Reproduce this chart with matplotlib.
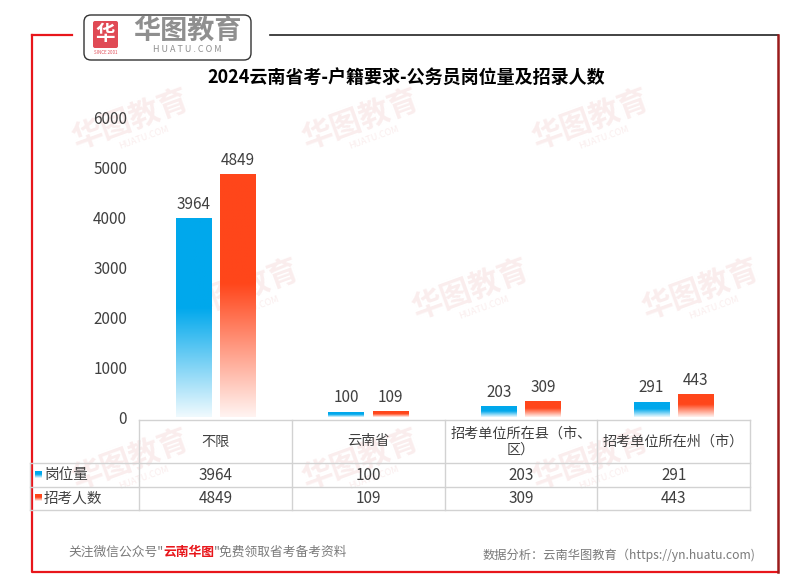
import matplotlib
matplotlib.use("Agg")
import matplotlib.pyplot as plt
import numpy as np
from matplotlib.patches import FancyBboxPatch
from matplotlib.colors import to_rgb

plt.rcParams['font.family'] = ['Noto Sans CJK SC', 'DejaVu Sans']

# data
categories = ['不限', '云南省', '招考单位所在县（市、\n区）', '招考单位所在州（市）']
series_names = ['岗位量', '招考人数']
posts = [3964, 100, 203, 291]
recruits = [4849, 109, 309, 443]
title = '2024云南省考-户籍要求-公务员岗位量及招录人数'

colors = ['#00a8ec', '#ff461b']
W, H = 798, 584
fig = plt.figure(figsize=(W / 100, H / 100), dpi=100)
fig.patch.set_facecolor('white')

# overlay in pixel coordinates
ov = fig.add_axes([0, 0, 1, 1], zorder=0)
ov.set_xlim(0, W)
ov.set_ylim(H, 0)
ov.axis('off')

# faint watermarks
wm = '#faeded'
for row, y in enumerate([120, 290, 460]):
    for x in np.arange(130 + (row % 2) * 110, 720, 230):
        ov.text(x, y, '华图教育', fontsize=22, fontweight='bold', color=wm,
                rotation=20, ha='center', va='center', zorder=0)
        ov.text(x + 14, y + 18, 'HUATU.COM', fontsize=6.5, color=wm,
                rotation=20, ha='center', va='center', zorder=0)

# frame
red = '#e8161b'
ov.plot([32, 32, 778], [35, 572, 572], color=red, lw=1.6, zorder=2)
ov.plot([32, 72], [35, 35], color=red, lw=1.6, zorder=2)
ov.plot([270, 778], [35, 35], color='#222222', lw=1.2, zorder=2)
ov.plot([778, 778], [35, 572], color='#9b1b1b', lw=1.8, zorder=2)

# logo
ov.add_patch(FancyBboxPatch((84, 15), 167, 45, boxstyle='round,pad=0,rounding_size=7',
                            fc='white', ec='#333333', lw=1.0, zorder=3))
ov.add_patch(FancyBboxPatch((93, 21), 25, 27, boxstyle='round,pad=0,rounding_size=2',
                            fc='#e04a55', ec='none', zorder=4))
ov.text(105.5, 34.5, '华', fontsize=14, fontweight='bold', color='white',
        ha='center', va='center', zorder=5)
ov.text(105.5, 53, 'SINCE 2001', fontsize=3.2, color='#e04a55', ha='center', va='center', zorder=5)
ov.text(187, 31, '华图教育', fontsize=19.5, fontweight='bold', color='#8f8f8f',
        ha='center', va='center', zorder=5)
ov.text(187, 50, 'H U A T U . C O M', fontsize=6.5, color='#8f8f8f',
        ha='center', va='center', zorder=5)

# title
ov.text(406, 78, title, fontsize=13, fontweight='bold', color='black',
        ha='center', va='center', zorder=3)

# main axes
left, right, top, bottom = 139, 750, 117, 417
ax = fig.add_axes([left / W, 1 - bottom / H, (right - left) / W, (bottom - top) / H], zorder=1)
ax.patch.set_alpha(0)
for s in ax.spines.values():
    s.set_visible(False)
ax.set_ylim(0, 6000)
ax.set_yticks(range(0, 6001, 1000))
ax.tick_params(axis='y', length=0, labelsize=11, labelcolor='#404040', pad=8.5)
ax.set_xticks([])


def grad_img(color, n=200):
    # row 0 = bottom (faded), last row = top (solid)
    c = np.array(to_rgb(color))
    f = np.linspace(0, 1, n)[:, None]
    k = np.clip(f / 0.55, 0, 1) * 0.94 + 0.06
    img = 1 - (1 - c[None, :]) * k
    return img[:, None, :]


width = 0.23
offsets = [-0.145, 0.145]
x = np.arange(len(categories))
for vals, off, col in zip([posts, recruits], offsets, colors):
    img = grad_img(col)
    for xi, v in zip(x, vals):
        ax.imshow(img, extent=(xi + off - width / 2, xi + off + width / 2, 0, v),
                  origin='lower', aspect='auto', interpolation='bilinear', zorder=2)
        ax.text(xi + off, v + 120, str(v), ha='center', va='bottom',
                fontsize=11, color='#404040')
ax.set_xlim(-0.5, len(categories) - 0.5)
ax.set_ylim(0, 6000)

# data table
lc = '#d2d2d2'
col_w = (right - left) / len(categories)
edges = [left + i * col_w for i in range(len(categories) + 1)]
rows_y = [420, 463, 487, 510]
ov.plot([left, right], [rows_y[0], rows_y[0]], color=lc, lw=1, zorder=3)
for yy in rows_y[1:]:
    ov.plot([30, right], [yy, yy], color=lc, lw=1, zorder=3)
ov.plot([30, 30], [rows_y[1], rows_y[3]], color=lc, lw=1, zorder=3)
for ex in edges:
    ov.plot([ex, ex], [rows_y[0], rows_y[3]], color=lc, lw=1, zorder=3)

for i, cat in enumerate(categories):
    cx = (edges[i] + edges[i + 1]) / 2
    ov.text(cx, (rows_y[0] + rows_y[1]) / 2, cat, fontsize=10.2, color='#404040',
            ha='center', va='center', multialignment='center', linespacing=1.15, zorder=4)
    for r, vals in enumerate([posts, recruits]):
        ov.text(cx, (rows_y[r + 1] + rows_y[r + 2]) / 2, str(vals[i]), fontsize=11,
                color='#404040', ha='center', va='center', zorder=4)

for r, (name, col) in enumerate(zip(series_names, colors)):
    cy = (rows_y[r + 1] + rows_y[r + 2]) / 2
    ov.imshow(grad_img(col, 20), extent=(35, 42, cy + 3, cy - 4), origin='lower',
              aspect='auto', zorder=4)
    ov.text(44, cy, name, fontsize=10.5, color='#404040', ha='left', va='center', zorder=4)
ov.set_xlim(0, W)
ov.set_ylim(H, 0)

# footer
grey = '#7a7a7a'
t1 = ov.text(68, 552, '关注微信公众号"', fontsize=9.2, color=grey, ha='left', va='center', zorder=4)
t2 = ov.annotate('云南华图', xy=(1, 0), xycoords=t1, va='bottom', ha='left',
                 fontsize=9.2, color=red, fontweight='bold', zorder=4)
ov.annotate('"免费领取省考备考资料', xy=(1, 0), xycoords=t2, va='bottom', ha='left',
            fontsize=9.2, color=grey, zorder=4)
ov.text(755, 555, '数据分析：云南华图教育（https://yn.huatu.com)', fontsize=8.8,
        color=grey, ha='right', va='center', zorder=4)

fig.savefig('out.png', dpi=100)
